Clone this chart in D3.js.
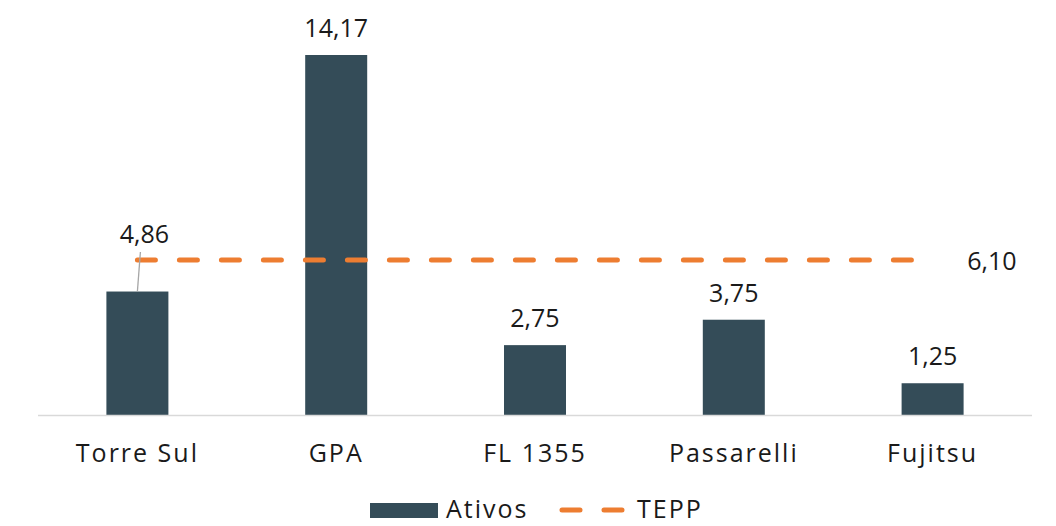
<!DOCTYPE html>
<html>
<head>
<meta charset="utf-8">
<script src="https://cdn.jsdelivr.net/npm/d3@7"></script>
<style>
  body { margin: 0; background: #fff; }
  svg text { font-family: "Open Sans", sans-serif; fill: #1a1a1a; }
  svg text.wide { letter-spacing: 2px; }
</style>
</head>
<body>
<svg id="chart" width="1056" height="526"></svg>
<script>
// --- Data ---
const categories = ["Torre Sul", "GPA", "FL 1355", "Passarelli", "Fujitsu"];
const ativos = [4.86, 14.17, 2.75, 3.75, 1.25];
const teppValue = 6.10;
const seriesNames = ["Ativos", "TEPP"];

const barColor = "#344c58";
const lineColor = "#ed7d31";

const svg = d3.select("#chart");
const fmt = v => v.toFixed(2).replace(".", ",");

const x = d3.scaleBand()
    .domain(categories)
    .range([38, 1032])
    .padding(0);

const y = d3.scaleLinear()
    .domain([0, 14.17])
    .range([415, 55]);

const barW = 62;
const cx = c => x(c) + x.bandwidth() / 2;

// bars
svg.append("g")
    .selectAll("rect")
    .data(ativos)
    .join("rect")
    .attr("x", (d, i) => cx(categories[i]) - barW / 2)
    .attr("y", d => y(d))
    .attr("width", barW)
    .attr("height", d => y(0) - y(d))
    .attr("fill", barColor);

// baseline axis
svg.append("line")
    .attr("x1", 38).attr("x2", 1032)
    .attr("y1", y(0) + 0.5).attr("y2", y(0) + 0.5)
    .attr("stroke", "#d9d9d9")
    .attr("stroke-width", 1.5);

// TEPP dashed line, first to last category centre
svg.append("line")
    .attr("x1", cx(categories[0]))
    .attr("x2", cx(categories[categories.length - 1]))
    .attr("y1", y(teppValue)).attr("y2", y(teppValue))
    .attr("stroke", lineColor)
    .attr("stroke-width", 5)
    .attr("stroke-linecap", "round")
    .attr("stroke-dasharray", "18 24");

// value labels (Torre Sul label sits above the TEPP line)
svg.append("g")
    .selectAll("text")
    .data(ativos)
    .join("text")
    .attr("x", (d, i) => cx(categories[i]) + (i === 0 ? 7 : 0))
    .attr("y", (d, i) => i === 0 ? y(teppValue) - 17 : y(d) - 18)
    .attr("text-anchor", "middle")
    .attr("font-size", 25)
    .text(d => fmt(d));

// leader line for the moved label
svg.append("line")
    .attr("x1", cx(categories[0]) + 3).attr("y1", y(teppValue) - 8)
    .attr("x2", cx(categories[0])).attr("y2", y(ativos[0]))
    .attr("stroke", "#a6a6a6")
    .attr("stroke-width", 1.3);

// TEPP label
svg.append("text")
    .attr("x", 992)
    .attr("y", y(teppValue) + 10)
    .attr("text-anchor", "middle")
    .attr("font-size", 25)
    .text(fmt(teppValue));

// category labels
svg.append("g")
    .selectAll("text")
    .data(categories)
    .join("text")
    .attr("class", "wide")
    .attr("x", d => cx(d))
    .attr("y", 462)
    .attr("text-anchor", "middle")
    .attr("font-size", 25)
    .text(d => d);

// legend
const legend = svg.append("g");
legend.append("rect")
    .attr("x", 370).attr("y", 503)
    .attr("width", 68).attr("height", 15)
    .attr("fill", barColor);
legend.append("text")
    .attr("class", "wide")
    .attr("x", 446).attr("y", 518)
    .attr("font-size", 25)
    .text(seriesNames[0]);
legend.append("line")
    .attr("x1", 562).attr("x2", 625)
    .attr("y1", 510).attr("y2", 510)
    .attr("stroke", lineColor)
    .attr("stroke-width", 5)
    .attr("stroke-linecap", "round")
    .attr("stroke-dasharray", "18 24");
legend.append("text")
    .attr("class", "wide")
    .attr("x", 637).attr("y", 518)
    .attr("font-size", 25)
    .text(seriesNames[1]);
</script>
</body>
</html>
